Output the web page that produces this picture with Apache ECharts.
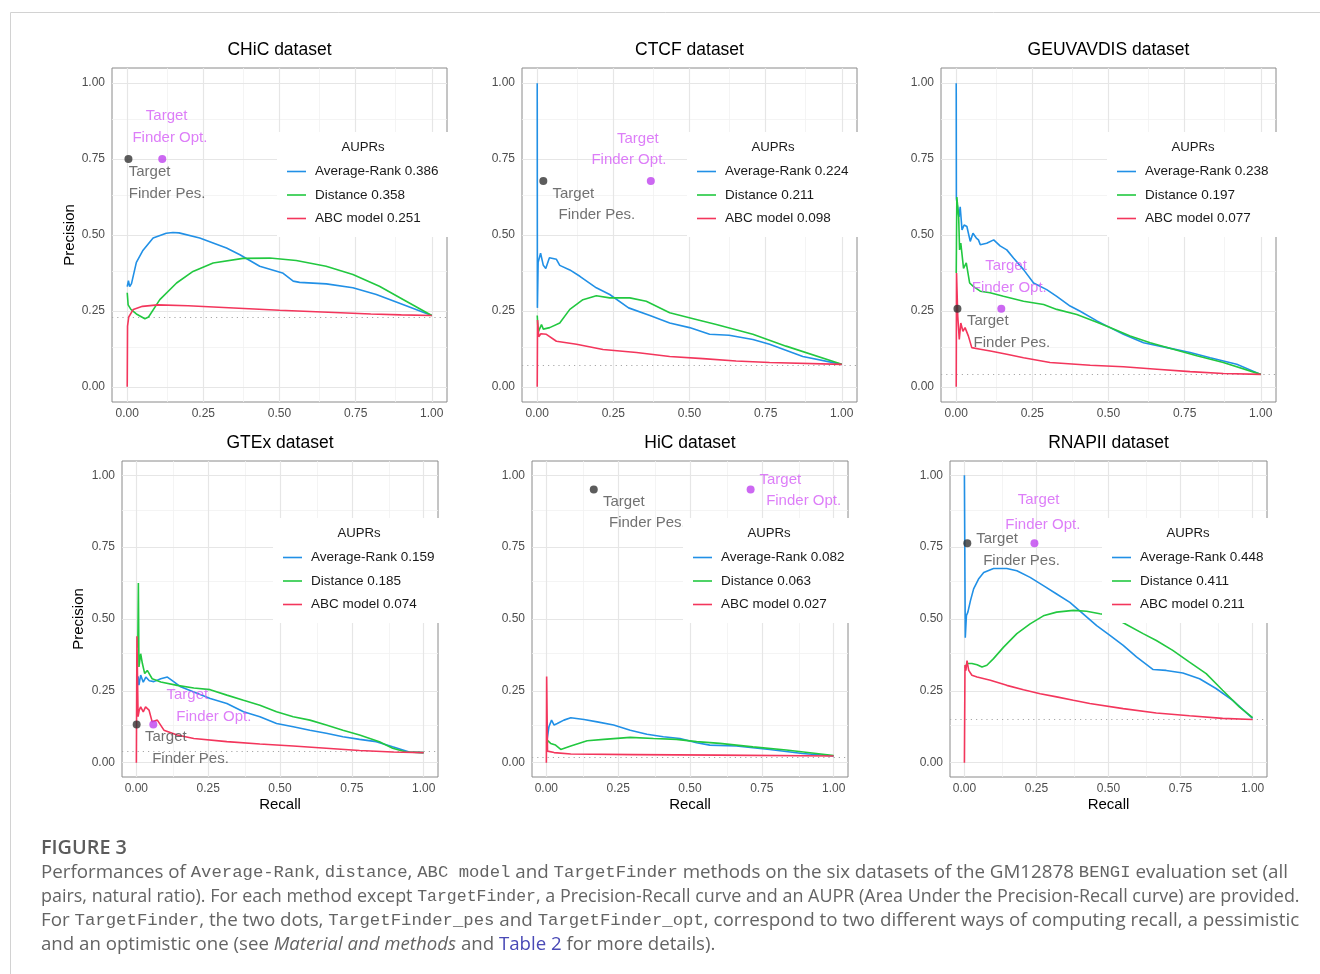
<!DOCTYPE html>
<html><head><meta charset="utf-8">
<script src="https://cdn.jsdelivr.net/npm/echarts@6/dist/echarts.min.js"></script>
<style>html,body{margin:0;padding:0;background:#fff}#c{width:1320px;height:974px}</style>
</head><body><div id="c"></div>
<script>
// ---------------- DATA ----------------
const datasetTitles = ['CHiC dataset','CTCF dataset','GEUVAVDIS dataset','GTEx dataset','HiC dataset','RNAPII dataset'];
const methodNames = ['Average-Rank','Distance','ABC model'];
const auprValues = [
  [0.386,0.358,0.251],
  [0.224,0.211,0.098],
  [0.238,0.197,0.077],
  [0.159,0.185,0.074],
  [0.082,0.063,0.027],
  [0.448,0.411,0.211]
];
const baselineRatio = [0.235,0.072,0.041,0.035,0.023,0.15];
const tickValues = [0,0.25,0.5,0.75,1];
const minorTickValues = [0.125,0.375,0.625,0.875];

// CHiC
const chicAverageRank = [[0,0.33],[0.004,0.35],[0.008,0.33],[0.014,0.34],[0.03,0.41],[0.052,0.45],[0.085,0.49],[0.128,0.506],[0.15,0.508],[0.17,0.507],[0.238,0.49],[0.326,0.457],[0.37,0.435],[0.435,0.397],[0.51,0.375],[0.545,0.348],[0.566,0.344],[0.654,0.339],[0.741,0.326],[0.818,0.304],[0.905,0.271],[1,0.235]];
const chicDistance = [[0,0.31],[0.003,0.27],[0.012,0.255],[0.03,0.24],[0.058,0.224],[0.07,0.23],[0.107,0.287],[0.162,0.342],[0.216,0.38],[0.282,0.408],[0.38,0.423],[0.468,0.424],[0.555,0.416],[0.653,0.397],[0.741,0.37],[0.828,0.331],[0.916,0.282],[1,0.235]];
const chicAbc = [[0,0],[0.001,0.2],[0.005,0.23],[0.02,0.255],[0.05,0.265],[0.1,0.27],[0.2,0.267],[0.3,0.262],[0.4,0.257],[0.5,0.252],[0.6,0.248],[0.7,0.244],[0.8,0.24],[0.9,0.237],[1,0.235]];
// CTCF
const ctcfAverageRank = [[0,1.0],[0.0005,0.26],[0.003,0.41],[0.011,0.44],[0.02,0.40],[0.028,0.39],[0.04,0.425],[0.063,0.42],[0.074,0.40],[0.107,0.385],[0.14,0.364],[0.194,0.326],[0.238,0.304],[0.3,0.26],[0.37,0.235],[0.435,0.21],[0.5,0.195],[0.566,0.173],[0.63,0.17],[0.708,0.156],[0.763,0.14],[0.872,0.1],[1,0.074]];
const ctcfDistance = [[0,0.235],[0.003,0.18],[0.014,0.205],[0.02,0.19],[0.041,0.195],[0.074,0.21],[0.107,0.255],[0.15,0.287],[0.194,0.3],[0.238,0.293],[0.304,0.293],[0.358,0.282],[0.435,0.244],[0.522,0.222],[0.588,0.205],[0.708,0.173],[0.817,0.134],[1,0.074]];
const ctcfAbc = [[0,0],[0.001,0.22],[0.005,0.165],[0.012,0.175],[0.03,0.173],[0.063,0.15],[0.129,0.14],[0.216,0.123],[0.326,0.113],[0.435,0.10],[0.544,0.093],[0.653,0.085],[0.763,0.08],[1,0.074]];
// GEUVADIS
const geuvAverageRank = [[0,1.0],[0.0005,0.62],[0.005,0.626],[0.009,0.56],[0.013,0.593],[0.019,0.517],[0.026,0.533],[0.035,0.528],[0.046,0.479],[0.055,0.506],[0.066,0.49],[0.073,0.484],[0.079,0.468],[0.1,0.473],[0.123,0.484],[0.144,0.464],[0.166,0.451],[0.188,0.424],[0.221,0.386],[0.254,0.342],[0.297,0.32],[0.33,0.298],[0.374,0.266],[0.407,0.249],[0.462,0.217],[0.505,0.195],[0.549,0.173],[0.615,0.145],[0.692,0.129],[0.768,0.113],[0.834,0.096],[0.921,0.074],[1,0.041]];
const geuvDistance = [[0,0.375],[0.002,0.625],[0.008,0.56],[0.011,0.451],[0.015,0.473],[0.024,0.39],[0.033,0.408],[0.044,0.342],[0.057,0.33],[0.079,0.315],[0.111,0.31],[0.155,0.298],[0.221,0.282],[0.287,0.271],[0.33,0.255],[0.396,0.238],[0.462,0.213],[0.505,0.195],[0.571,0.167],[0.637,0.145],[0.713,0.124],[0.79,0.102],[0.877,0.08],[1,0.041]];
const geuvAbc = [[0,0],[0.001,0.375],[0.005,0.233],[0.01,0.156],[0.015,0.21],[0.022,0.183],[0.029,0.195],[0.04,0.167],[0.051,0.129],[0.079,0.124],[0.112,0.118],[0.166,0.107],[0.221,0.096],[0.308,0.08],[0.44,0.071],[0.549,0.066],[0.659,0.058],[0.768,0.05],[0.877,0.044],[1,0.041]];
// GTEx
const gtexAverageRank = [[0.004,0.27],[0.006,0.3],[0.009,0.27],[0.015,0.305],[0.024,0.28],[0.033,0.298],[0.045,0.285],[0.061,0.282],[0.085,0.292],[0.108,0.298],[0.131,0.281],[0.154,0.264],[0.2,0.246],[0.257,0.223],[0.315,0.206],[0.373,0.177],[0.43,0.16],[0.488,0.136],[0.546,0.125],[0.604,0.113],[0.661,0.102],[0.719,0.09],[0.777,0.081],[0.835,0.073],[0.892,0.055],[0.95,0.037],[1,0.035]];
const gtexDistance = [[0.005,0.4],[0.007,0.625],[0.009,0.333],[0.015,0.379],[0.021,0.345],[0.029,0.31],[0.038,0.321],[0.055,0.292],[0.085,0.281],[0.142,0.269],[0.2,0.26],[0.257,0.254],[0.315,0.235],[0.373,0.217],[0.43,0.2],[0.488,0.177],[0.546,0.16],[0.604,0.148],[0.661,0.131],[0.719,0.113],[0.777,0.096],[0.846,0.073],[0.892,0.05],[0.939,0.037],[1,0.035]];
const gtexAbc = [[0,0],[0.002,0.44],[0.006,0.16],[0.01,0.183],[0.015,0.194],[0.024,0.177],[0.032,0.194],[0.044,0.183],[0.055,0.142],[0.073,0.148],[0.096,0.113],[0.142,0.096],[0.2,0.084],[0.315,0.073],[0.43,0.065],[0.546,0.058],[0.661,0.05],[0.777,0.042],[0.892,0.037],[1,0.035]];
// HiC
const hicAverageRank = [[0.001,0.07],[0.009,0.125],[0.018,0.148],[0.027,0.131],[0.038,0.136],[0.061,0.148],[0.085,0.156],[0.131,0.15],[0.177,0.142],[0.234,0.131],[0.292,0.113],[0.35,0.099],[0.407,0.09],[0.465,0.084],[0.523,0.069],[0.569,0.061],[0.661,0.058],[0.777,0.046],[0.892,0.032],[1,0.023]];
const hicDistance = [[0.001,0.08],[0.015,0.067],[0.032,0.061],[0.05,0.046],[0.085,0.058],[0.142,0.076],[0.2,0.081],[0.292,0.088],[0.373,0.084],[0.453,0.081],[0.523,0.073],[0.604,0.067],[0.719,0.055],[0.835,0.044],[1,0.025]];
const hicAbc = [[0,0],[0.001,0.3],[0.004,0.04],[0.009,0.038],[0.027,0.035],[0.085,0.03],[0.3,0.028],[0.6,0.026],[1,0.023]];
// RNAPII
const rnapAverageRank = [[0,1.0],[0.003,0.435],[0.007,0.512],[0.012,0.524],[0.021,0.564],[0.032,0.605],[0.049,0.639],[0.067,0.662],[0.101,0.676],[0.147,0.676],[0.182,0.668],[0.228,0.645],[0.274,0.616],[0.32,0.587],[0.366,0.558],[0.412,0.518],[0.459,0.477],[0.505,0.443],[0.551,0.408],[0.597,0.368],[0.655,0.324],[0.7,0.321],[0.758,0.312],[0.816,0.292],[0.873,0.258],[0.931,0.217],[1,0.154]];
const rnapDistance = [[0.002,0.33],[0.009,0.345],[0.026,0.345],[0.044,0.341],[0.061,0.333],[0.078,0.339],[0.101,0.362],[0.136,0.402],[0.182,0.449],[0.228,0.483],[0.274,0.511],[0.32,0.524],[0.378,0.53],[0.424,0.527],[0.47,0.518],[0.505,0.512],[0.562,0.481],[0.62,0.449],[0.666,0.425],[0.723,0.391],[0.781,0.35],[0.839,0.31],[0.896,0.252],[0.954,0.194],[1,0.157]];
const rnapAbc = [[0,0],[0.002,0.34],[0.005,0.32],[0.009,0.355],[0.015,0.321],[0.026,0.304],[0.044,0.298],[0.09,0.287],[0.147,0.269],[0.205,0.254],[0.263,0.24],[0.32,0.229],[0.378,0.217],[0.435,0.206],[0.551,0.188],[0.666,0.173],[0.781,0.163],[0.896,0.154],[1,0.15]];

// TargetFinder dots (recall, precision)
const pesDots = [[0.004,0.75],[0.02,0.678],[0.004,0.257],[0.001,0.133],[0.165,0.951],[0.01,0.764]];
const optDots = [[0.115,0.75],[0.373,0.678],[0.148,0.257],[0.059,0.133],[0.711,0.951],[0.243,0.764]];
// label line anchors (left edge, middle) in data units
const pesLabelLine1 = [[0.005,0.708],[0.05,0.637],[0.035,0.216],[0.03,0.09],[0.197,0.909],[0.041,0.778]];
const pesLabelLine2 = [[0.005,0.637],[0.07,0.566],[0.057,0.145],[0.055,0.012],[0.218,0.834],[0.065,0.703]];
const optLabelLine1 = [[0.061,0.891],[0.262,0.817],[0.095,0.397],[0.105,0.235],[0.742,0.986],[0.185,0.913]];
const optLabelLine2 = [[0.017,0.82],[0.178,0.746],[0.051,0.326],[0.139,0.16],[0.765,0.91],[0.142,0.829]];
const pesLabelText = ['Target','Finder Pes.'];
const optLabelText = ['Target','Finder Opt.'];

const curves = [
  [chicAverageRank, chicDistance, chicAbc],
  [ctcfAverageRank, ctcfDistance, ctcfAbc],
  [geuvAverageRank, geuvDistance, geuvAbc],
  [gtexAverageRank, gtexDistance, gtexAbc],
  [hicAverageRank, hicDistance, hicAbc],
  [rnapAverageRank, rnapDistance, rnapAbc]
];

// ---------------- LAYOUT / STYLE ----------------
const FONT = 'Liberation Sans, Arial, Helvetica, sans-serif';
const methodColors = ['#2190e6','#22c840','#f3365c'];
const panels = [
  {l:112,t:68,w:335,h:334, lg:[277,132]},
  {l:522,t:68,w:335,h:334, lg:[687,132]},
  {l:941,t:68,w:335,h:334, lg:[1107,132]},
  {l:122,t:461,w:316,h:316, lg:[273,518]},
  {l:532,t:461,w:316,h:316, lg:[683,518]},
  {l:950,t:461,w:317,h:316, lg:[1102,518]}
];

const grids = [], xAxes = [], yAxes = [], series = [], legends = [], graphics = [];

panels.forEach((p, i) => {
  grids.push({left:p.l, top:p.t, width:p.w, height:p.h, show:true, borderColor:'#8a8a8a', borderWidth:1, backgroundColor:'rgba(0,0,0,0)', containLabel:false});
  const axisCommon = {
    type:'value', gridIndex:i, min:-0.05, max:1.05,
    axisLine:{show:false},
    axisTick:{show:true, length:3, customValues:tickValues, lineStyle:{color:'#333', width:1}},
    axisLabel:{customValues:tickValues, formatter:v=>v.toFixed(2), color:'#4d4d4d', fontSize:12, fontFamily:FONT},
    splitLine:{show:false}
  };
  xAxes.push(Object.assign({}, axisCommon, {axisLabel:Object.assign({}, axisCommon.axisLabel, {margin:6})}));
  yAxes.push(Object.assign({}, axisCommon, {axisLabel:Object.assign({}, axisCommon.axisLabel, {margin:7})}));

  // grid lines
  const gl = [];
  minorTickValues.forEach(v => {
    gl.push({xAxis:v, lineStyle:{color:'#f1f1f1', width:0.8, type:'solid'}});
    gl.push({yAxis:v, lineStyle:{color:'#f1f1f1', width:0.8, type:'solid'}});
  });
  tickValues.forEach(v => {
    gl.push({xAxis:v, lineStyle:{color:'#e6e6e6', width:1.2, type:'solid'}});
    gl.push({yAxis:v, lineStyle:{color:'#e6e6e6', width:1.2, type:'solid'}});
  });
  series.push({type:'line', xAxisIndex:i, yAxisIndex:i, data:[], silent:true, z:1, animation:false,
    markLine:{z:1, silent:true, symbol:['none','none'], label:{show:false}, animation:false, emphasis:{disabled:true}, data:gl}});
  // baseline
  series.push({type:'line', xAxisIndex:i, yAxisIndex:i, data:[], silent:true, z:2, animation:false,
    markLine:{z:2, silent:true, symbol:['none','none'], label:{show:false}, animation:false, emphasis:{disabled:true},
      data:[{yAxis:baselineRatio[i], lineStyle:{color:'#a8a8a8', width:1.1, type:[1.2,4]}}]}});

  const names = [];
  methodNames.forEach((m, k) => {
    const name = m + ' ' + auprValues[i][k].toFixed(3);
    names.push(name);
    series.push({type:'line', name, xAxisIndex:i, yAxisIndex:i, data:curves[i][k], symbol:'none', showSymbol:false,
      lineStyle:{width:1.6, color:methodColors[k]}, itemStyle:{color:methodColors[k]}, color:methodColors[k], z:3, animation:false, silent:true});
  });

  // dots
  series.push({type:'scatter', xAxisIndex:i, yAxisIndex:i, data:[pesDots[i]], symbolSize:8, itemStyle:{color:'#333333'}, z:3.6, silent:true, animation:false});
  series.push({type:'scatter', xAxisIndex:i, yAxisIndex:i, data:[optDots[i]], symbolSize:8, itemStyle:{color:'#bf42ef'}, z:3.6, silent:true, animation:false});
  // labels
  const lab = (pt, txt, col) => ({value:pt, name:txt, label:{color:col}});
  series.push({type:'scatter', xAxisIndex:i, yAxisIndex:i, symbolSize:0, z:3.5, silent:true, animation:false,
    data:[lab(pesLabelLine1[i], pesLabelText[0], '#4d4d4d'), lab(pesLabelLine2[i], pesLabelText[1], '#4d4d4d'),
          lab(optLabelLine1[i], optLabelText[0], '#d45ef6'), lab(optLabelLine2[i], optLabelText[1], '#d45ef6')],
    label:{show:true, position:'right', distance:0, formatter:d=>d.name, fontSize:15, fontFamily:FONT}});

  legends.push({
    data:names, left:p.lg[0], top:p.lg[1], orient:'vertical', selectedMode:false, z:10,
    backgroundColor:'#ffffff', borderWidth:0, padding:[32,10,11,10],
    icon:'path://M0,0 L19,0 L19,1.6 L0,1.6 Z', itemWidth:19, itemHeight:14, itemGap:8.5, symbolKeepAspect:true,
    textStyle:{fontSize:13.5, fontFamily:FONT, color:'#1a1a1a', lineHeight:15, padding:[0,0,0,4]}
  });

  // titles
  graphics.push({type:'text', z:100, x:p.l + p.w/2, y:(i<3?50.5:443.5), style:{text:datasetTitles[i], fontSize:17.5, fontFamily:FONT, fill:'#000', align:'center', verticalAlign:'middle'}});
  graphics.push({type:'text', z:100, x:p.lg[0] + 86, y:p.lg[1] + 15, style:{text:'AUPRs', fontSize:13.2, fontFamily:FONT, fill:'#1a1a1a', align:'center', verticalAlign:'middle'}});
  if (i >= 3) {
    graphics.push({type:'text', z:100, x:p.l + p.w/2, y:805, style:{text:'Recall', fontSize:15, fontFamily:FONT, fill:'#000', align:'center', verticalAlign:'middle'}});
  }
});
graphics.push({type:'text', z:100, x:70, y:235, rotation:Math.PI/2, style:{text:'Precision', fontSize:15, fontFamily:FONT, fill:'#000', align:'center', verticalAlign:'middle'}});
graphics.push({type:'text', z:100, x:79, y:619, rotation:Math.PI/2, style:{text:'Precision', fontSize:15, fontFamily:FONT, fill:'#000', align:'center', verticalAlign:'middle'}});

// frame
graphics.push({type:'rect', z:0, shape:{x:10.5, y:12.5, width:1400, height:1100}, style:{fill:'none', stroke:'#d2d2d2', lineWidth:1}});

// ---------------- CAPTION ----------------
const CAP = 'Open Sans';
const MONO = 'Liberation Mono';
const capColor = '#646464';
const captionLines = [
  [['n','Performances of '],['m','Average-Rank'],['n',', '],['m','distance'],['n',', '],['m','ABC model'],['n',' and '],['m','TargetFinder'],['n',' methods on the six datasets of the GM12878 '],['m','BENGI'],['n',' evaluation set (all']],
  [['n','pairs, natural ratio). For each method except '],['m','TargetFinder'],['n',', a Precision-Recall curve and an AUPR (Area Under the Precision-Recall curve) are provided.']],
  [['n','For '],['m','TargetFinder'],['n',', the two dots, '],['m','TargetFinder_pes'],['n',' and '],['m','TargetFinder_opt'],['n',', correspond to two different ways of computing recall, a pessimistic']],
  [['n','and an optimistic one (see '],['i','Material and methods'],['n',' and '],['a','Table 2'],['n',' for more details).']]
];
const captionRightEdge = [1288, 1300, 1300, 716];
const capLeft = 41;
const mctx = document.createElement('canvas').getContext('2d');
function segFont(key, s) {
  if (key === 'm') return (s*0.92).toFixed(2) + 'px "' + MONO + '"';
  if (key === 'i') return 'italic ' + s.toFixed(2) + 'px "' + CAP + '"';
  return s.toFixed(2) + 'px "' + CAP + '"';
}
function lineWidth(line, s) {
  let w = 0;
  line.forEach(([k, t]) => { mctx.font = segFont(k, s); w += mctx.measureText(t).width; });
  return w;
}
function richFor(s) {
  return {
    n:{fontFamily:CAP, fontSize:s, fill:capColor},
    m:{fontFamily:MONO, fontSize:s*0.92, fill:capColor},
    i:{fontFamily:CAP, fontSize:s, fill:capColor, fontStyle:'italic'},
    a:{fontFamily:CAP, fontSize:s, fill:'#4a4ab6'}
  };
}
captionLines.forEach((line, k) => {
  const target = captionRightEdge[k] - capLeft;
  const w16 = lineWidth(line, 16);
  const s = 16 * target / w16;
  const txt = line.map(([key, t]) => '{' + key + '|' + t + '}').join('');
  graphics.push({type:'text', z:100, x:capLeft, y:872.5 + 24*k, style:{text:txt, rich:richFor(s), fill:capColor, align:'left', verticalAlign:'middle'}});
});
mctx.font = '600 16px "' + CAP + '"';
const figSize = 16 * 86 / mctx.measureText('FIGURE 3').width;
graphics.push({type:'text', z:100, x:capLeft, y:848, style:{text:'FIGURE 3', fontFamily:CAP, fontSize:figSize, fontWeight:600, fill:'#5c5c5c', align:'left', verticalAlign:'middle'}});

const chart = echarts.init(document.getElementById('c'), null, {renderer:'canvas'});
chart.setOption({
  animation:false,
  backgroundColor:'#ffffff',
  grid:grids, xAxis:xAxes, yAxis:yAxes, series, legend:legends,
  graphic:{elements:graphics}
});
</script></body></html>
